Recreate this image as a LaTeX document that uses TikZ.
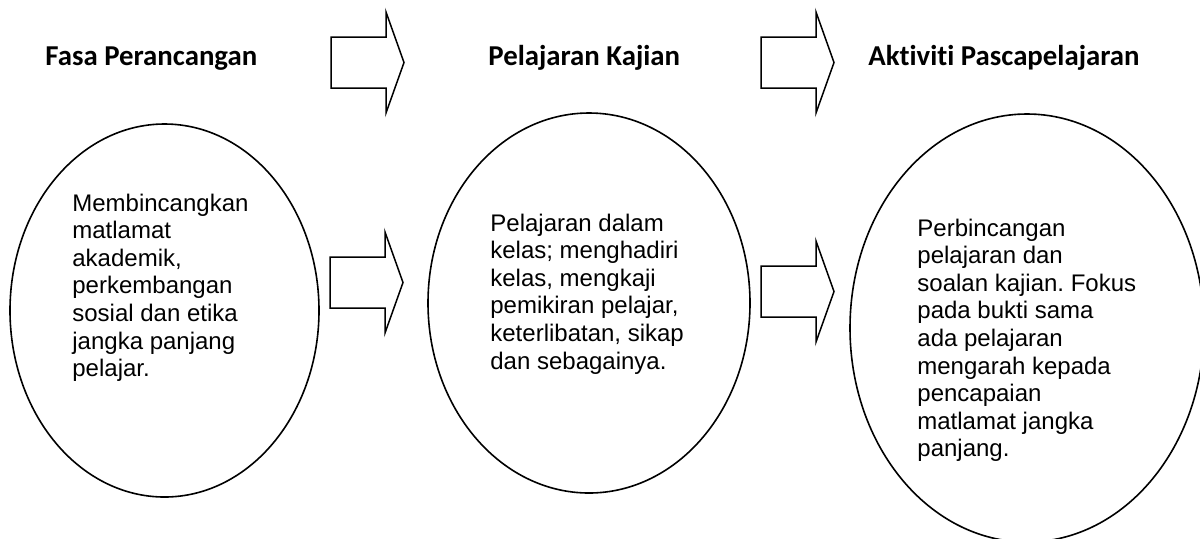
\documentclass[tikz,border=0pt]{standalone}
\usepackage{fontspec}
\setmainfont{Liberation Sans}
\newfontfamily\headfont[Ligatures=NoCommon]{Carlito}
\usepackage{tikz}
\usetikzlibrary{shapes.geometric}
\usetikzlibrary{positioning}
\frenchspacing
\tikzset{phase/.style={ellipse,draw=black,line width=0.8pt,inner sep=0pt,outer sep=0pt}}
\tikzset{heading/.style={font=\headfont\bfseries\fontsize{14.4}{17}\selectfont,inner sep=0pt,anchor=base west}}
\tikzset{body/.style={font=\fontsize{12}{13.8}\selectfont,align=left,inner sep=0pt,anchor=base west}}
\tikzset{blockarr/.style={draw=black,fill=white,line width=0.75pt,line join=miter}}
\newcommand{\blkarrow}[1]{\draw[blockarr] (#1) -- ++(55,0) -- ++(0,-25) -- ++(18,50.5) -- ++(-18,50.5) -- ++(0,-25) -- ++(-55,0) -- cycle;}

\begin{document}
\begin{tikzpicture}[x=0.5pt,y=-0.5pt]
  \useasboundingbox[fill=white] (0,0) rectangle (1200,538);
  \clip (0,0) rectangle (1200,538);

  % headings
  \node[heading] (h1) at (45,65) {Fasa Perancangan};
  \node[heading] (h2) at (488,65) {Pelajaran Kajian};
  \node[heading] (h3) at (868,65) {Aktiviti Pascapelajaran};

  % phases
  \node[phase, minimum width=154.5pt, minimum height=186.5pt] (e1) at (164.5,310.5) {};
  \node[phase, minimum width=161pt, minimum height=190pt] (e2) at (589,303) {};
  \node[phase, minimum width=177pt, minimum height=214pt] (e3) at (1027,328) {};

  % text sits on the baseline of its last line
  \node[body] (t1) at (72,376.6) {Membincangkan\\matlamat\\akademik,\\perkembangan\\sosial dan etika\\jangka panjang\\pelajar.};
  \node[body] (t2) at (490,369) {Pelajaran dalam\\kelas; menghadiri\\kelas, mengkaji\\pemikiran pelajar,\\keterlibatan, sikap\\dan sebagainya.};
  \node[body] (t3) at (917,456.8) {Perbincangan\\pelajaran dan\\soalan kajian. Fokus\\pada bukti sama\\ada pelajaran\\mengarah kepada\\pencapaian\\matlamat jangka\\panjang.};

  % block arrows
  \coordinate (a1) at (331,37);
  \coordinate (a2) at (761,37);
  \coordinate (b1) at (330,257);
  \coordinate (b2) at (761,266);
  \blkarrow{a1}
  \blkarrow{a2}
  \blkarrow{b1}
  \blkarrow{b2}
\end{tikzpicture}
\end{document}
